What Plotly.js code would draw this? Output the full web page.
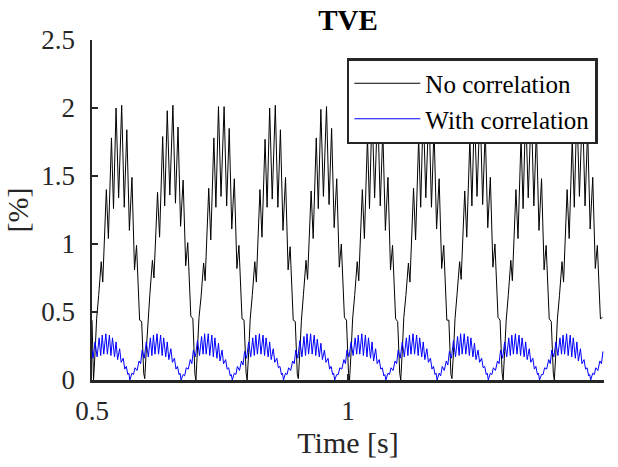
<!DOCTYPE html>
<html>
<head>
<meta charset="utf-8">
<script src="https://cdn.plot.ly/plotly-3.0.1.min.js"></script>
<style>
  html, body { margin: 0; padding: 0; background: #ffffff; }
  #chart { width: 618px; height: 467px; }
</style>
</head>
<body>
<div id="chart"></div>
<script>
// ---------------- data ----------------
const seriesNames = ["No correlation", "With correlation"];

const xTickValues = [0.5, 1, 1.5];
const xTickLabels = ["0.5", "1", "1.5"];
const yTickValues = [0, 0.5, 1, 1.5, 2, 2.5];
const yTickLabels = ["0", "0.5", "1", "1.5", "2", "2.5"];

// "No correlation" (black) - time [s]
const noCorrTime = [
  0.500,
  0.503,0.506,0.509,0.513,0.518,0.521,0.528,0.532,0.538,0.542,0.547,0.552,0.558,0.563,0.568,0.573,0.578,0.583,0.587,0.593,0.597,0.601,
  0.603,0.606,0.609,0.613,0.618,0.621,0.628,0.632,0.638,0.642,0.647,0.652,0.658,0.663,0.668,0.673,0.678,0.683,0.687,0.693,0.697,0.701,
  0.703,0.706,0.709,0.713,0.718,0.721,0.728,0.732,0.738,0.742,0.747,0.752,0.758,0.763,0.768,0.773,0.778,0.783,0.787,0.793,0.797,0.801,
  0.803,0.806,0.809,0.813,0.818,0.821,0.828,0.832,0.838,0.842,0.847,0.852,0.858,0.863,0.868,0.873,0.878,0.883,0.887,0.893,0.897,0.901,
  0.903,0.906,0.909,0.913,0.918,0.921,0.928,0.932,0.938,0.942,0.947,0.952,0.958,0.963,0.968,0.973,0.978,0.983,0.987,0.993,0.997,1.001,
  1.003,1.006,1.009,1.013,1.018,1.021,1.028,1.032,1.038,1.042,1.047,1.052,1.058,1.063,1.068,1.073,1.078,1.083,1.087,1.093,1.097,1.101,
  1.103,1.106,1.109,1.113,1.118,1.121,1.128,1.132,1.138,1.142,1.147,1.152,1.158,1.163,1.168,1.173,1.178,1.183,1.187,1.193,1.197,1.201,
  1.203,1.206,1.209,1.213,1.218,1.221,1.228,1.232,1.238,1.242,1.247,1.252,1.258,1.263,1.268,1.273,1.278,1.283,1.287,1.293,1.297,1.301,
  1.303,1.306,1.309,1.313,1.318,1.321,1.328,1.332,1.338,1.342,1.347,1.352,1.358,1.363,1.368,1.373,1.378,1.383,1.387,1.393,1.397,1.401,
  1.403,1.406,1.409,1.413,1.418,1.421,1.428,1.432,1.438,1.442,1.447,1.452,1.458,1.463,1.468,1.473,1.478,1.483,1.487,1.493,1.497
];
// "No correlation" (black) - TVE [%]
const noCorrTVE = [
  0.44,
  0.00,0.20,0.45,0.62,0.87,0.72,1.40,1.04,1.78,1.26,2.00,1.34,2.02,1.27,1.84,1.10,1.49,0.81,0.99,0.44,0.43,0.05,
  0.01,0.22,0.44,0.63,0.88,0.75,1.38,1.05,1.79,1.28,1.98,1.36,2.02,1.30,1.86,1.13,1.47,0.84,1.01,0.47,0.45,0.04,
  0.00,0.21,0.46,0.61,0.86,0.73,1.41,1.03,1.78,1.27,2.01,1.35,2.01,1.28,1.85,1.11,1.48,0.82,0.99,0.45,0.44,0.05,
  0.00,0.20,0.45,0.62,0.87,0.72,1.40,1.05,1.77,1.27,2.00,1.33,2.02,1.27,1.84,1.10,1.49,0.81,0.98,0.44,0.43,0.04,
  0.01,0.21,0.44,0.63,0.88,0.74,1.39,1.04,1.78,1.26,1.99,1.35,2.01,1.29,1.85,1.12,1.48,0.83,1.00,0.46,0.44,0.05,
  0.00,0.20,0.45,0.62,0.87,0.73,1.40,1.04,1.79,1.26,2.00,1.34,2.02,1.28,1.84,1.10,1.49,0.81,0.99,0.45,0.43,0.05,
  0.00,0.21,0.46,0.62,0.86,0.72,1.41,1.03,1.78,1.27,2.01,1.34,2.01,1.27,1.85,1.11,1.48,0.82,0.99,0.44,0.44,0.04,
  0.01,0.20,0.45,0.63,0.87,0.74,1.39,1.05,1.78,1.28,1.99,1.35,2.02,1.29,1.84,1.12,1.49,0.83,1.00,0.46,0.44,0.05,
  0.00,0.21,0.44,0.62,0.88,0.73,1.40,1.04,1.79,1.26,2.00,1.34,2.01,1.28,1.85,1.10,1.48,0.81,0.99,0.45,0.43,0.05,
  0.00,0.20,0.45,0.62,0.87,0.72,1.40,1.04,1.78,1.27,2.01,1.35,2.02,1.28,1.84,1.11,1.49,0.82,0.99,0.45,0.46
];

// "With correlation" (blue) - time [s]
const withCorrTime = [
  0.500,0.502,0.506,0.510,0.514,0.517,0.520,0.523,0.527,0.530,0.534,0.537,0.540,0.544,0.547,0.550,0.554,0.557,0.561,0.564,0.567,0.570,0.572,
  0.574,0.578,0.581,0.584,0.588,0.592,0.595,0.598,0.602,0.606,0.610,0.614,0.617,0.620,0.623,0.627,0.630,0.634,0.637,0.640,0.644,0.647,0.650,0.654,0.657,0.661,0.664,0.667,0.670,0.672,
  0.674,0.678,0.681,0.684,0.688,0.692,0.695,0.698,0.702,0.706,0.710,0.714,0.717,0.720,0.723,0.727,0.730,0.734,0.737,0.740,0.744,0.747,0.750,0.754,0.757,0.761,0.764,0.767,0.770,0.772,
  0.774,0.778,0.781,0.784,0.788,0.792,0.795,0.798,0.802,0.806,0.810,0.814,0.817,0.820,0.823,0.827,0.830,0.834,0.837,0.840,0.844,0.847,0.850,0.854,0.857,0.861,0.864,0.867,0.870,0.872,
  0.874,0.878,0.881,0.884,0.888,0.892,0.895,0.898,0.902,0.906,0.910,0.914,0.917,0.920,0.923,0.927,0.930,0.934,0.937,0.940,0.944,0.947,0.950,0.954,0.957,0.961,0.964,0.967,0.970,0.972,
  0.974,0.978,0.981,0.984,0.988,0.992,0.995,0.998,1.002,1.006,1.010,1.014,1.017,1.020,1.023,1.027,1.030,1.034,1.037,1.040,1.044,1.047,1.050,1.054,1.057,1.061,1.064,1.067,1.070,1.072,
  1.074,1.078,1.081,1.084,1.088,1.092,1.095,1.098,1.102,1.106,1.110,1.114,1.117,1.120,1.123,1.127,1.130,1.134,1.137,1.140,1.144,1.147,1.150,1.154,1.157,1.161,1.164,1.167,1.170,1.172,
  1.174,1.178,1.181,1.184,1.188,1.192,1.195,1.198,1.202,1.206,1.210,1.214,1.217,1.220,1.223,1.227,1.230,1.234,1.237,1.240,1.244,1.247,1.250,1.254,1.257,1.261,1.264,1.267,1.270,1.272,
  1.274,1.278,1.281,1.284,1.288,1.292,1.295,1.298,1.302,1.306,1.310,1.314,1.317,1.320,1.323,1.327,1.330,1.334,1.337,1.340,1.344,1.347,1.350,1.354,1.357,1.361,1.364,1.367,1.370,1.372,
  1.374,1.378,1.381,1.384,1.388,1.392,1.395,1.398,1.402,1.406,1.410,1.414,1.417,1.420,1.423,1.427,1.430,1.434,1.437,1.440,1.444,1.447,1.450,1.454,1.457,1.461,1.464,1.467,1.470,1.472,
  1.474,1.478,1.481,1.484,1.488,1.492,1.495,1.498
];
// "With correlation" (blue) - TVE [%]
const withCorrTVE = [
  0.22,0.16,0.28,0.17,0.31,0.18,0.33,0.19,0.34,0.19,0.33,0.18,0.31,0.17,0.28,0.15,0.23,0.13,0.16,0.08,0.10,0.04,0.05,
  0.00,0.05,0.04,0.09,0.07,0.14,0.12,0.22,0.16,0.28,0.17,0.31,0.18,0.33,0.19,0.34,0.19,0.33,0.18,0.31,0.17,0.28,0.15,0.23,0.13,0.16,0.08,0.10,0.04,0.05,
  0.00,0.04,0.03,0.09,0.08,0.15,0.12,0.22,0.17,0.29,0.18,0.32,0.19,0.34,0.19,0.34,0.18,0.33,0.17,0.31,0.16,0.27,0.14,0.22,0.12,0.15,0.08,0.09,0.03,0.04,
  0.00,0.05,0.04,0.10,0.07,0.14,0.11,0.21,0.16,0.28,0.17,0.31,0.18,0.33,0.19,0.34,0.19,0.33,0.18,0.31,0.17,0.28,0.15,0.23,0.13,0.16,0.09,0.10,0.04,0.05,
  0.00,0.05,0.04,0.09,0.07,0.14,0.12,0.22,0.16,0.29,0.17,0.32,0.18,0.34,0.19,0.34,0.19,0.33,0.18,0.30,0.17,0.27,0.15,0.22,0.13,0.16,0.08,0.10,0.04,0.05,
  0.00,0.04,0.04,0.09,0.08,0.15,0.12,0.22,0.17,0.28,0.18,0.31,0.19,0.33,0.19,0.34,0.18,0.33,0.17,0.31,0.16,0.28,0.14,0.23,0.12,0.15,0.08,0.09,0.03,0.04,
  0.00,0.05,0.04,0.09,0.07,0.14,0.12,0.22,0.16,0.28,0.17,0.31,0.18,0.33,0.19,0.34,0.19,0.33,0.18,0.31,0.17,0.28,0.15,0.23,0.13,0.16,0.08,0.10,0.04,0.05,
  0.00,0.05,0.03,0.10,0.07,0.14,0.11,0.21,0.16,0.29,0.17,0.32,0.18,0.34,0.19,0.34,0.19,0.32,0.18,0.31,0.17,0.27,0.15,0.22,0.13,0.16,0.09,0.10,0.04,0.05,
  0.00,0.05,0.04,0.09,0.07,0.14,0.12,0.22,0.16,0.28,0.17,0.31,0.18,0.33,0.19,0.34,0.19,0.33,0.18,0.31,0.17,0.28,0.15,0.23,0.13,0.16,0.08,0.10,0.04,0.05,
  0.00,0.04,0.04,0.09,0.08,0.15,0.12,0.22,0.17,0.28,0.18,0.31,0.19,0.33,0.19,0.34,0.18,0.33,0.17,0.31,0.16,0.28,0.14,0.23,0.12,0.15,0.08,0.09,0.03,0.04,
  0.00,0.05,0.04,0.09,0.07,0.14,0.12,0.21
];

// ---------------- chart ----------------
const FONT = "Liberation Serif, Times New Roman, serif";
const INK = "#262626";

const traces = [
  {
    x: noCorrTime, y: noCorrTVE, name: seriesNames[0],
    type: "scatter", mode: "lines",
    line: { color: "#000000", width: 1 }
  },
  {
    x: withCorrTime, y: withCorrTVE, name: seriesNames[1],
    type: "scatter", mode: "lines",
    line: { color: "#0000ff", width: 1 }
  }
];

const layout = {
  width: 618, height: 467,
  margin: { l: 92, r: 14, t: 40, b: 87, pad: 0 },
  paper_bgcolor: "#ffffff", plot_bgcolor: "#ffffff",
  font: { family: FONT, color: INK },
  showlegend: true,
  title: {
    text: "<b>TVE</b>",
    font: { family: FONT, size: 29, color: "#000000" },
    x: 0.5, xref: "paper", xanchor: "center",
    y: 0.957, yref: "container", yanchor: "middle"
  },
  xaxis: {
    range: [0.5, 1.5],
    tickmode: "array", tickvals: xTickValues, ticktext: xTickLabels,
    ticks: "inside", ticklen: 6, tickwidth: 1.5, tickcolor: INK,
    showline: true, linecolor: INK, linewidth: 2.5, mirror: false,
    showgrid: false, zeroline: false,
    tickfont: { family: FONT, size: 27, color: INK },
    ticklabelstandoff: 5,
    automargin: false,
    title: { text: "Time [s]", font: { family: FONT, size: 30, color: INK }, standoff: 3 }
  },
  yaxis: {
    range: [0, 2.5],
    tickmode: "array", tickvals: yTickValues, ticktext: yTickLabels,
    ticks: "inside", ticklen: 6, tickwidth: 1.5, tickcolor: INK,
    showline: true, linecolor: INK, linewidth: 2.5, mirror: false,
    showgrid: false, zeroline: false,
    tickfont: { family: FONT, size: 27, color: INK },
    ticklabelstandoff: 9,
    automargin: true,
    title: { text: "[%]", font: { family: FONT, size: 30, color: INK }, standoff: 4 }
  },
  legend: {
    x: 0.988, xanchor: "right", xref: "paper",
    y: 0.947, yanchor: "top", yref: "paper",
    bgcolor: "#ffffff", bordercolor: INK, borderwidth: 2.5,
    font: { family: FONT, size: 25, color: "#000000" },
    itemwidth: 66,
    tracegroupgap: 0
  }
};

Plotly.newPlot("chart", traces, layout, { displayModeBar: false, staticPlot: true });
</script>
</body>
</html>
